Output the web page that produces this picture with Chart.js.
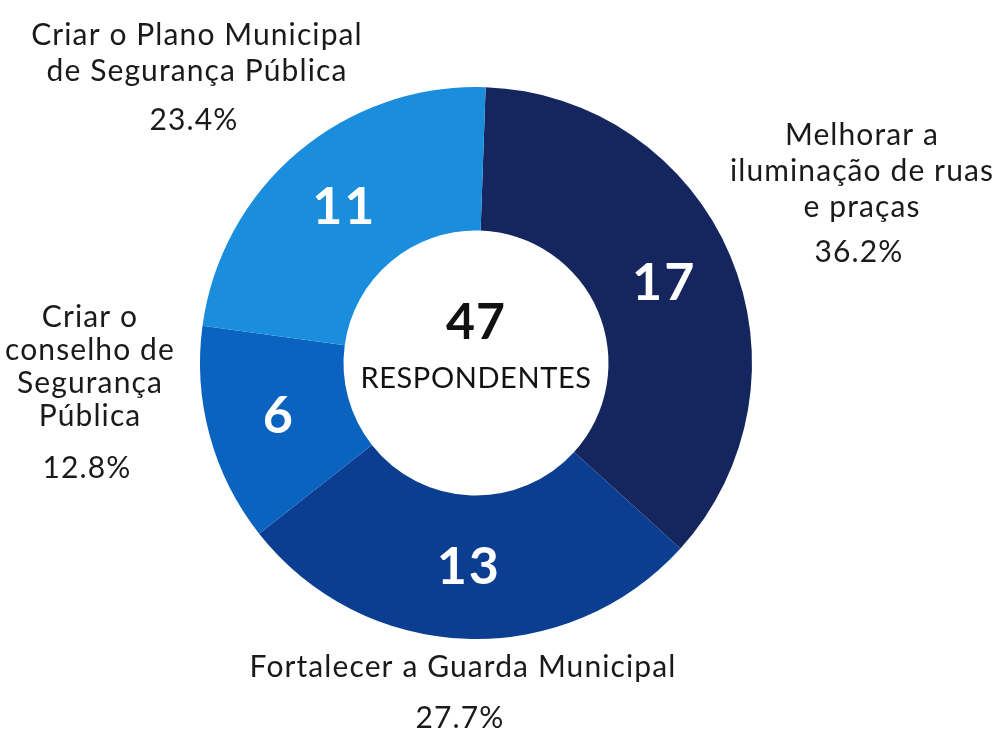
<!DOCTYPE html>
<html lang="pt">
<head>
    <meta charset="UTF-8">
    <title>Segurança Pública - 47 respondentes</title>
    <script src="https://cdn.jsdelivr.net/npm/chart.js"></script>
    <style>
        html, body { margin: 0; padding: 0; background: #fff; }
        #pieChart { display: block; }
    </style>
</head>
<body>
    <canvas id="pieChart" width="996" height="736"></canvas>
    <script>
        // dados
        const categories = [
            'Melhorar a iluminação de ruas e praças',
            'Fortalecer a Guarda Municipal',
            'Criar o conselho de Segurança Pública',
            'Criar o Plano Municipal de Segurança Pública'
        ];
        const values = [17, 13, 6, 11];
        const percents = ['36.2%', '27.7%', '12.8%', '23.4%'];
        const colors = ['#15265e', '#0b3d90', '#0b63c0', '#1a8edc'];
        const total = 47;

        // rótulos externos: linhas, posição do texto
        const outerLabels = [
            { lines: ['Melhorar a', 'iluminação de ruas', 'e praças'], x: 862, y: 135, pctY: 252 },
            { lines: ['Fortalecer a Guarda Municipal'], x: 463, y: 667, pctY: 718 },
            { lines: ['Criar o', 'conselho de', 'Segurança', 'Pública'], x: 90, y: 317, pctY: 468 },
            { lines: ['Criar o Plano Municipal', 'de Segurança Pública'], x: 197, y: 35, pctY: 120 }
        ];

        const labelPlugin = {
            id: 'labelPlugin',
            afterDatasetsDraw(chart) {
                const ctx = chart.ctx;
                const meta = chart.getDatasetMeta(0);
                ctx.save();
                ctx.textAlign = 'center';
                ctx.textBaseline = 'middle';

                // valores dentro das fatias
                ctx.fillStyle = '#ffffff';
                ctx.font = 'bold 52px Lato';
                ctx.letterSpacing = '2px';
                meta.data.forEach((arc, i) => {
                    const p = arc.tooltipPosition();
                    ctx.fillText(values[i], p.x, p.y);
                });

                // centro
                const cx = (chart.chartArea.left + chart.chartArea.right) / 2;
                const cy = (chart.chartArea.top + chart.chartArea.bottom) / 2;
                ctx.fillStyle = '#111';
                ctx.font = 'bold 50px Lato';
                ctx.letterSpacing = '1px';
                ctx.fillText(total, cx, cy - 40);
                ctx.font = '29px Lato';
                ctx.letterSpacing = '0.6px';
                ctx.fillText('RESPONDENTES', cx, cy + 16);

                // rótulos externos
                ctx.fillStyle = '#1a1a1a';
                ctx.letterSpacing = '1.1px';
                outerLabels.forEach((lab, i) => {
                    ctx.font = '30px Lato';
                    lab.lines.forEach((line, j) => {
                        ctx.fillText(line, lab.x, lab.y + j * (lab.lines.length > 3 ? 33 : 36));
                    });
                    ctx.fillText(percents[i], lab.x - 3, lab.pctY);
                });
                ctx.restore();
            }
        };

        const ctx = document.getElementById('pieChart').getContext('2d');
        new Chart(ctx, {
            type: 'doughnut',
            data: {
                labels: categories,
                datasets: [{
                    data: values,
                    backgroundColor: colors,
                    borderWidth: 0
                }]
            },
            options: {
                responsive: false,
                animation: false,
                rotation: 2,
                cutout: '48%',
                layout: {
                    padding: { top: 87, bottom: 97, left: 200, right: 244 }
                },
                plugins: {
                    legend: { display: false },
                    tooltip: { enabled: false }
                }
            },
            plugins: [labelPlugin]
        });
    </script>
</body>
</html>
